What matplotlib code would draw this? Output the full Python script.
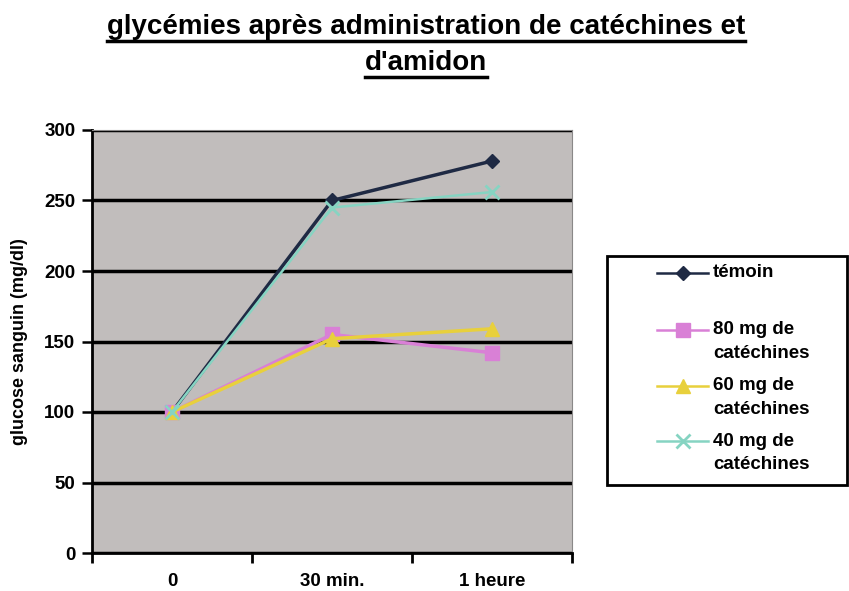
import matplotlib.pyplot as plt
from matplotlib.lines import Line2D
from matplotlib.patches import Rectangle

plt.rcParams['font.family'] = ['Liberation Sans', 'DejaVu Sans']

categories = ["0", "30 min.", "1 heure"]
temoin = [100, 250, 278]
cat80 = [100, 155, 142]
cat60 = [100, 152, 159]
cat40 = [100, 245, 256]

series = [
    ("témoin", temoin, "#1f2a44", "D", 7, 2.5),
    ("80 mg de\ncatéchines", cat80, "#d980d6", "s", 10, 2.5),
    ("60 mg de\ncatéchines", cat60, "#e8d03c", "^", 10, 2.5),
    ("40 mg de\ncatéchines", cat40, "#86d4c2", "x", 10, 1.8),
]

W, H = 849, 591
fig = plt.figure(figsize=(W / 100, H / 100), dpi=100)


def fx(px):
    return px / W


def fy(py):
    return 1 - py / H


ax = fig.add_axes([fx(92), fy(553), 480 / W, 423 / H])
ax.set_facecolor("#c1bdbc")

x = [0.5, 1.5, 2.5]
for name, vals, col, mk, ms, lw in series:
    ax.plot(x, vals, color=col, marker=mk, markersize=ms, lw=lw,
            markeredgewidth=2 if mk == "x" else 1, label=name, zorder=3)

ax.set_xlim(0, 3)
ax.set_ylim(0, 300)
ax.set_yticks(range(0, 301, 50))
ax.set_xticks([0, 1, 2, 3])
ax.set_xticklabels([])
ax.set_xticks(x, minor=True)
ax.set_xticklabels(categories, minor=True)
ax.tick_params(axis="x", which="minor", length=0, pad=14.5, labelsize=13.5)
ax.tick_params(axis="x", which="major", length=7, width=2, direction="out")
ax.tick_params(axis="y", length=7, width=1.8, direction="out", labelsize=13.5, pad=5)
for lab in ax.get_xticklabels(minor=True) + ax.get_yticklabels():
    lab.set_fontweight("bold")

ax.yaxis.grid(True, color="black", lw=2.5)
ax.set_axisbelow(True)
ax.spines["left"].set_linewidth(2)
ax.spines["bottom"].set_linewidth(2)
ax.spines["top"].set_color("#8a8888")
ax.spines["right"].set_color("#8a8888")
ax.set_ylabel("glucose sanguin (mg/dl)", fontsize=13, fontweight="bold", labelpad=12)

# legend drawn by hand to match the original box
fig.add_artist(Rectangle((fx(607), fy(485)), fx(847) - fx(607), fy(256) - fy(485),
                         transform=fig.transFigure, fill=False, edgecolor="black", lw=2))
leg_y = [273, 330, 386, 441]
for (name, vals, col, mk, ms, lw), ly in zip(series, leg_y):
    fig.add_artist(Line2D([fx(657), fx(708)], [fy(ly), fy(ly)], color=col, lw=1.8,
                          transform=fig.transFigure))
    fig.add_artist(Line2D([fx(683)], [fy(ly)], color=col, marker=mk, markersize=ms,
                          markeredgewidth=2 if mk == "x" else 1, transform=fig.transFigure))
    for i, part in enumerate(name.split("\n")):
        fig.text(fx(713), fy(ly + i * 23.5), part, ha="left", va="center",
                 fontsize=13.5, fontweight="bold")

title_lines = ["glycémies après administration de catéchines et", "d'amidon"]
title_y = [27, 63]
fig.canvas.draw()
r = fig.canvas.get_renderer()
for txt, ty in zip(title_lines, title_y):
    t = fig.text(fx(426), fy(ty), txt, ha="center", va="center", fontsize=20,
                 fontweight="bold")
    bb = t.get_window_extent(renderer=r)
    uy = (bb.y0 - 1) / fig.bbox.height
    fig.add_artist(Line2D([bb.x0 / W, bb.x1 / W], [uy, uy],
                          color="black", lw=2.5, transform=fig.transFigure))

fig.savefig("out.png", dpi=100)
